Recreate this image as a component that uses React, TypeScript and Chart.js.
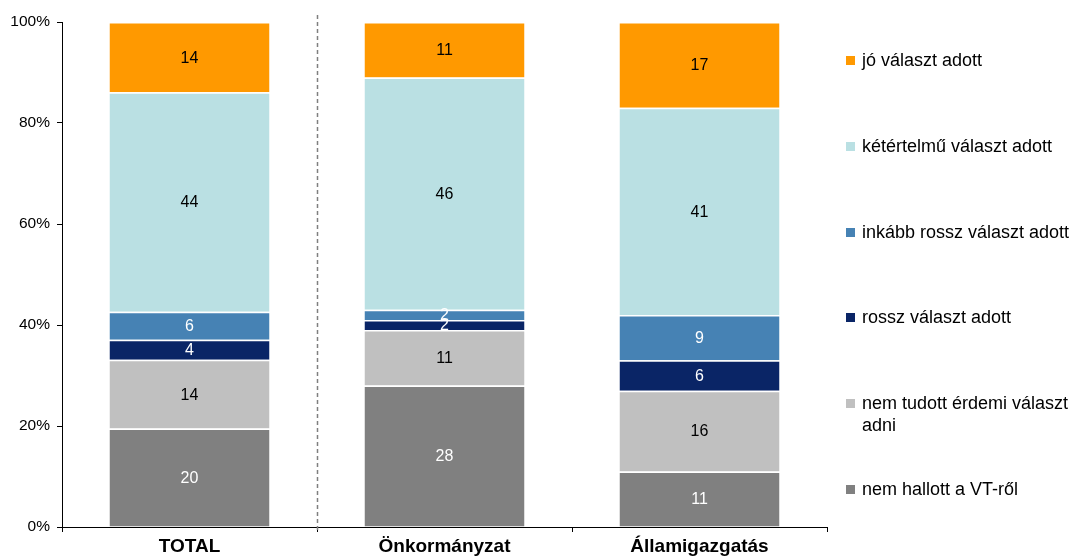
import React, { useEffect, useRef } from "react";
import { Chart, registerables } from "chart.js";

Chart.register(...registerables);

const categories = ["TOTAL", "Önkormányzat", "Államigazgatás"];

const seriesNames = [
  "nem hallott a VT-ről",
  "nem tudott érdemi választ adni",
  "rossz választ adott",
  "inkább rossz választ adott",
  "kétértelmű választ adott",
  "jó választ adott",
];

const nemHallott = [19.5, 28, 11];
const nemTudott = [13.6, 11, 16];
const rossz = [4.0, 2, 6];
const inkabbRossz = [5.5, 2, 9];
const ketertelmu = [43.5, 46, 41];
const jo = [13.9, 11, 17];

const yTicks = [0, 20, 40, 60, 80, 100];

const seriesColors = ["#808080", "#C0C0C0", "#0A2566", "#4682B4", "#BAE0E3", "#FF9900"];
const labelColors = ["#FFFFFF", "#000000", "#FFFFFF", "#FFFFFF", "#000000", "#000000"];

// legend lines (wrapped as in the reference)
const legendLines: string[][] = [
  ["nem hallott a VT-ről"],
  ["nem tudott érdemi választ", "adni"],
  ["rossz választ adott"],
  ["inkább rossz választ adott"],
  ["kétértelmű választ adott"],
  ["jó választ adott"],
];

const FONT = "'Liberation Sans', Arial, sans-serif";

export default function App() {
  const ref = useRef<HTMLCanvasElement | null>(null);

  useEffect(() => {
    if (!ref.current) return;
    const values = [nemHallott, nemTudott, rossz, inkabbRossz, ketertelmu, jo];

    const overlay = {
      id: "overlay",
      afterDatasetsDraw(chart: any) {
        const ctx = chart.ctx;
        ctx.save();
        ctx.font = `16px ${FONT}`;
        ctx.textAlign = "center";
        ctx.textBaseline = "middle";
        chart.data.datasets.forEach((ds: any, di: number) => {
          const meta = chart.getDatasetMeta(di);
          meta.data.forEach((el: any, i: number) => {
            const v = ds.data[i];
            const cy = (el.y + el.base) / 2;
            ctx.fillStyle = labelColors[di];
            ctx.fillText(String(Math.round(v)), el.x, cy + 1);
          });
        });
        ctx.restore();
      },
      afterDraw(chart: any) {
        const ctx = chart.ctx;
        const xs = chart.scales.x;
        const area = chart.chartArea;
        const xd = Math.round((xs.getPixelForValue(0) + xs.getPixelForValue(1)) / 2) + 0.5;
        ctx.save();
        ctx.strokeStyle = "#7F7F7F";
        ctx.lineWidth = 1.5;
        ctx.setLineDash([4, 3]);
        ctx.beginPath();
        ctx.moveTo(xd, area.top - 7);
        ctx.lineTo(xd, area.bottom + 5);
        ctx.stroke();
        ctx.restore();

        ctx.save();
        ctx.font = `18px ${FONT}`;
        ctx.textBaseline = "middle";
        ctx.textAlign = "left";
        const order = [5, 4, 3, 2, 1, 0];
        order.forEach((si, row) => {
          const y = 60 + row * 85.8;
          ctx.fillStyle = seriesColors[si];
          ctx.fillRect(846, Math.round(y) - 4, 9, 9);
          ctx.fillStyle = "#000000";
          legendLines[si].forEach((line, li) => {
            ctx.fillText(line, 862, y + 1 + li * 22);
          });
        });
        ctx.restore();
      },
    };

    const chart = new Chart(ref.current, {
      type: "bar",
      data: {
        labels: categories,
        datasets: values.map((d, i) => ({
          label: seriesNames[i],
          data: d,
          backgroundColor: seriesColors[i],
          borderColor: "#FFFFFF",
          borderWidth: { top: 1.5, bottom: 0, left: 0, right: 0 },
          borderSkipped: false,
          categoryPercentage: 1,
          barPercentage: 160 / 255,
        })),
      },
      options: {
        animation: false,
        responsive: false,
        maintainAspectRatio: false,
        layout: { padding: { top: 22, right: 249, bottom: 0, left: 0 } },
        plugins: {
          legend: { display: false },
          tooltip: { enabled: false },
        },
        scales: {
          x: {
            stacked: true,
            offset: true,
            afterFit(scale: any) {
              scale.height = 30;
            },
            grid: {
              display: true,
              offset: true,
              drawOnChartArea: false,
              drawTicks: true,
              tickLength: 5,
              color: "#000000",
            },
            border: { display: true, color: "#000000", width: 1 },
            ticks: {
              color: "#000000",
              padding: 3,
              font: { family: FONT, size: 19, weight: "bold" },
              maxRotation: 0,
            },
          },
          y: {
            stacked: true,
            min: 0,
            max: 100,
            afterFit(scale: any) {
              scale.width = 62;
            },
            afterBuildTicks(scale: any) {
              scale.ticks = yTicks.map((v) => ({ value: v }));
            },
            grid: {
              display: true,
              drawOnChartArea: false,
              drawTicks: true,
              tickLength: 5,
              color: "#000000",
            },
            border: { display: true, color: "#000000", width: 1 },
            ticks: {
              color: "#000000",
              padding: 7,
              font: { family: FONT, size: 15.5 },
              callback: (v: any) => `${v}%`,
            },
          },
        },
      },
      plugins: [overlay],
    });

    return () => chart.destroy();
  }, []);

  return (
    <div style={{ position: "absolute", left: 0, top: 0, width: 1076, height: 557, background: "#fff" }}>
      <canvas ref={ref} width={1076} height={557} style={{ width: 1076, height: 557, display: "block" }} />
    </div>
  );
}
